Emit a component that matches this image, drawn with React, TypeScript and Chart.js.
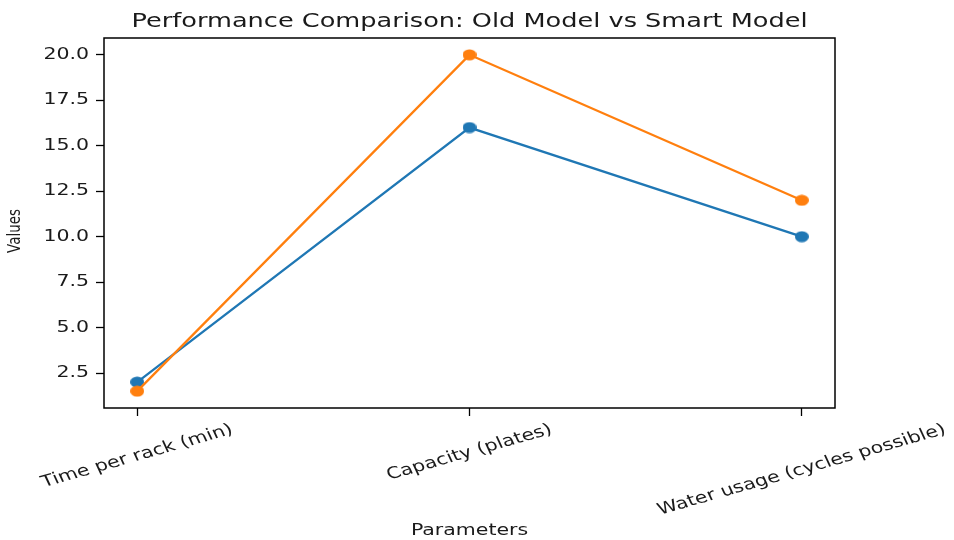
import React, { useEffect, useRef } from "react";
import { Chart, registerables } from "chart.js";

Chart.register(...registerables);

const categories = ["Time per rack (min)", "Capacity (plates)", "Water usage (cycles possible)"];
const oldModel = [2, 16, 10];
const smartModel = [1.5, 20, 12];
const yTickValues = [2.5, 5, 7.5, 10, 12.5, 15, 17.5, 20];
const titleText = "Performance Comparison: Old Model vs Smart Model";
const xTitle = "Parameters";
const yTitle = "Values";

const allVals = [...oldModel, ...smartModel];
const vMin = Math.min(...allVals);
const vMax = Math.max(...allVals);
const vPad = (vMax - vMin) * 0.05;
const xPad = (categories.length - 1) * 0.05;

const TEXT = "#1a1a1a";
const SX = 1.28; // horizontal stretch of the reference picture

function makeDot(color: string) {
  const c = document.createElement("canvas");
  c.width = 14;
  c.height = 12;
  const g = c.getContext("2d")!;
  g.fillStyle = color;
  g.beginPath();
  g.ellipse(7, 6, 7, 5.6, 0, 0, Math.PI * 2);
  g.fill();
  return c;
}

const overlay = {
  id: "overlay",
  afterDraw(chart: any) {
    const { ctx, chartArea: a, scales } = chart;
    ctx.save();
    // frame
    ctx.strokeStyle = "#000";
    ctx.lineWidth = 1.5;
    ctx.strokeRect(a.left, a.top, a.right - a.left, a.bottom - a.top);

    ctx.fillStyle = TEXT;
    // title
    ctx.save();
    ctx.font = '20px "DejaVu Sans"';
    ctx.textAlign = "center";
    ctx.textBaseline = "alphabetic";
    ctx.translate((a.left + a.right) / 2, 27);
    ctx.scale(SX, 1);
    ctx.fillText(titleText, 0, 0);
    ctx.restore();

    // y tick labels
    const ys = scales.y;
    ctx.font = '16px "DejaVu Sans"';
    yTickValues.forEach((v) => {
      const py = ys.getPixelForValue(v);
      ctx.save();
      ctx.translate(a.left - 15, py);
      ctx.scale(SX, 1);
      ctx.textAlign = "right";
      ctx.textBaseline = "middle";
      ctx.fillText(v.toFixed(1), 0, 0);
      ctx.restore();
    });

    // x tick labels (rotated, centered)
    const xs = scales.x;
    const fs = 16;
    ctx.font = fs + 'px "DejaVu Sans"';
    const th = (20 * Math.PI) / 180;
    categories.forEach((c, i) => {
      const px = xs.getPixelForValue(i);
      const L = ctx.measureText(c).width;
      const h = fs * 1.1;
      const H = L * Math.sin(th) + h * Math.cos(th);
      ctx.save();
      ctx.translate(px, a.bottom + 13 + H / 2);
      ctx.scale(SX, 1);
      ctx.rotate(-th);
      ctx.textAlign = "center";
      ctx.textBaseline = "middle";
      ctx.fillText(c, 0, 0);
      ctx.restore();
    });

    // x axis title
    ctx.save();
    ctx.font = '16px "DejaVu Sans"';
    ctx.textAlign = "center";
    ctx.textBaseline = "middle";
    ctx.translate((a.left + a.right) / 2, 531);
    ctx.scale(SX, 1);
    ctx.fillText(xTitle, 0, 0);
    ctx.restore();

    // y axis title
    ctx.save();
    ctx.font = '13.5px "DejaVu Sans"';
    ctx.translate(16, 231);
    ctx.scale(SX, 1);
    ctx.rotate(-Math.PI / 2);
    ctx.textAlign = "center";
    ctx.textBaseline = "middle";
    ctx.fillText(yTitle, 0, 0);
    ctx.restore();

    ctx.restore();
  },
};

export default function App() {
  const ref = useRef<HTMLCanvasElement>(null);
  useEffect(() => {
    if (!ref.current) return;
    const blueDot = makeDot("#1f77b4");
    const orangeDot = makeDot("#ff7f0e");
    const chart = new Chart(ref.current, {
      type: "line",
      data: {
        datasets: [
          {
            label: "Old Model",
            data: oldModel.map((v, i) => ({ x: i, y: v })),
            borderColor: "#1f77b4",
            backgroundColor: "#1f77b4",
            pointStyle: blueDot as any,
            pointRadius: 6,
            borderWidth: 2.3,
            order: 1,
          },
          {
            label: "Smart Model",
            data: smartModel.map((v, i) => ({ x: i, y: v })),
            borderColor: "#ff7f0e",
            backgroundColor: "#ff7f0e",
            pointStyle: orangeDot as any,
            pointRadius: 6,
            borderWidth: 2.3,
            order: 0,
          },
        ],
      },
      options: {
        responsive: false,
        animation: false,
        layout: { padding: { top: 38, right: 119, left: 0, bottom: 0 } },
        plugins: { legend: { display: false }, tooltip: { enabled: false }, title: { display: false } },
        scales: {
          x: {
            type: "linear",
            min: -xPad,
            max: categories.length - 1 + xPad,
            border: { display: false },
            grid: { drawOnChartArea: false, drawTicks: true, tickLength: 8, tickColor: "#000", tickWidth: 1.3 },
            ticks: { display: false },
            afterBuildTicks: (axis: any) => {
              axis.ticks = categories.map((_, i) => ({ value: i }));
            },
            afterFit: (scale: any) => {
              scale.height = 132;
              scale.paddingLeft = 0;
              scale.paddingRight = 0;
            },
          },
          y: {
            type: "linear",
            min: vMin - vPad,
            max: vMax + vPad,
            border: { display: false },
            grid: { drawOnChartArea: false, drawTicks: true, tickLength: 8, tickColor: "#000", tickWidth: 1.3 },
            ticks: { display: false },
            afterBuildTicks: (axis: any) => {
              axis.ticks = yTickValues.map((v) => ({ value: v }));
            },
            afterFit: (scale: any) => {
              scale.width = 104;
              scale.paddingTop = 0;
              scale.paddingBottom = 0;
            },
          },
        },
      },
      plugins: [overlay],
    });
    return () => chart.destroy();
  }, []);
  return (
    <div style={{ position: "absolute", left: 0, top: 0, width: 954, height: 540, background: "#fff" }}>
      <canvas ref={ref} width={954} height={540} />
    </div>
  );
}
